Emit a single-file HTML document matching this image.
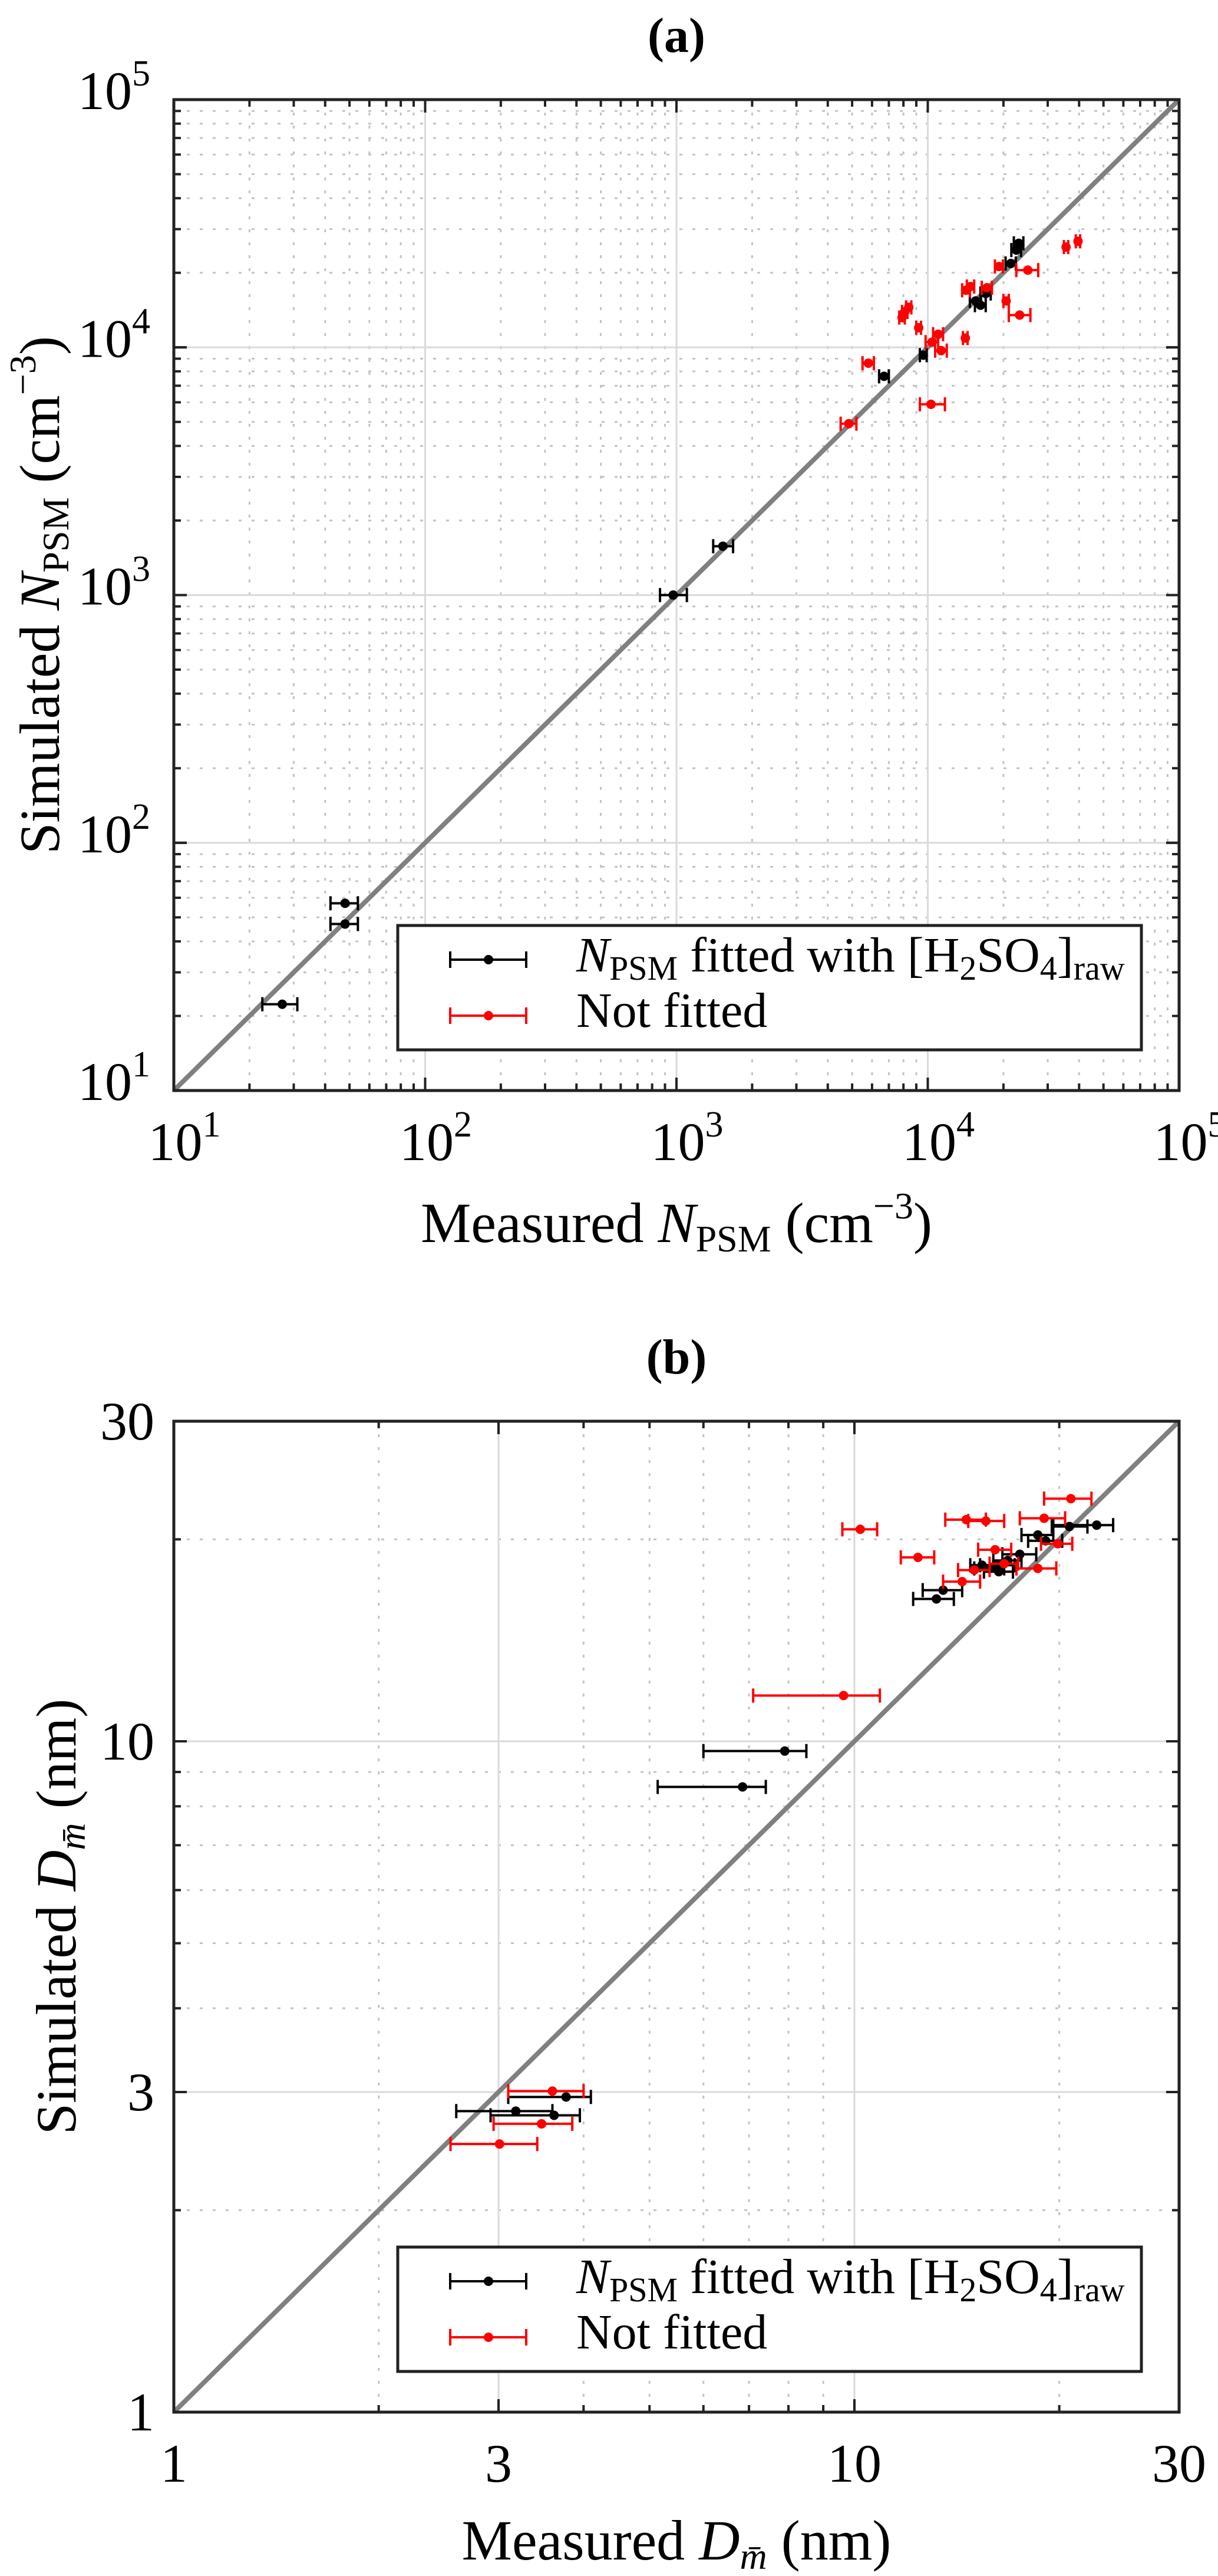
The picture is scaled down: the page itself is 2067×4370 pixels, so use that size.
<!DOCTYPE html>
<html><head><meta charset="utf-8"><style>
html,body{margin:0;padding:0;background:#fff}
svg{display:block}
text{font-family:"Liberation Serif",serif;fill:#000}
</style></head><body>
<svg id="fig" width="2067" height="4370" viewBox="0 0 2067 4370" xmlns="http://www.w3.org/2000/svg">
<rect width="2067" height="4370" fill="#fff"/>
</svg>
<script>
// ---- Panel (a) data: N_PSM (cm^-3) ----
const aBlackX  =[27,48,48,970,1530,6700,9600,15500,16200,17000,21400,22500,23000];
const aBlackY  =[22.3,57,47,1000,1575,7640,9300,15400,14800,16500,21800,24700,26300];
const aBlackLo =[22.5,42,42,860,1400,6400,9300,14700,15400,16200,20400,21500,22000];
const aBlackHi =[31,54,54,1100,1680,7000,9900,16300,17000,17800,22400,23500,24000];
const aRedX  =[4850,5800,10300,7900,8100,8400,9200,10400,11300,11000,14100,14200,14800,17200,19200,20500,25000,23200,35500,39600];
const aRedY  =[4920,8630,5890,13200,13900,14500,12000,10500,9700,11300,10900,17000,17600,17400,21200,15400,20500,13500,25400,26800];
const aRedLo =[4500,5500,9300,7700,7900,8200,9000,9800,10700,10500,13800,13700,14300,16400,18500,20000,22500,21000,34800,38800];
const aRedHi =[5200,6100,11700,8100,8300,8600,9400,11000,11900,11500,14400,14700,15300,18000,19900,21000,27500,25600,36200,40400];
// ---- Panel (b) data: D_m (nm) ----
const bBlackX  =[22.7,20.7,18.6,19.1,17.5,16.2,15.4,15.8,16.8,16.3,13.5,13.2,7.9,6.85,3.77,3.18,3.62];
const bBlackY  =[21.0,20.9,20.3,19.9,19.0,18.3,18.3,18.1,18.6,17.9,16.8,16.3,9.67,8.55,2.95,2.81,2.77];
const bBlackLo =[19.6,19.5,17.6,18.0,16.5,15.3,14.8,15.0,16.0,15.5,12.6,12.2,6.0,5.14,3.1,2.6,2.92];
const bBlackHi =[24.0,22.0,19.6,20.2,18.5,17.2,16.0,16.6,17.6,17.1,14.4,14.0,8.5,7.41,4.1,3.6,3.95];
const bRedX  =[20.8,19.0,14.6,15.6,10.2,16.1,12.4,18.6,14.4,19.9,15.0,16.6,9.64,3.6,3.47,3.01];
const bRedY  =[23.0,21.5,21.4,21.3,20.7,19.3,18.8,18.1,17.3,19.7,18.0,18.4,11.7,3.01,2.69,2.51];
const bRedLo =[19.0,17.5,13.6,14.7,9.6,15.2,11.7,17.3,13.5,18.8,14.2,15.8,7.1,3.1,2.95,2.55];
const bRedHi =[22.3,20.4,15.6,16.6,10.8,17.0,13.1,19.8,15.3,20.9,15.8,17.4,10.9,4.0,3.85,3.42];
const aTicks=["1","2","3","4","5"];
const bTickVals=[1,3,10,30];
const bTickLabels=["1","3","10","30"];

const NS="http://www.w3.org/2000/svg";
const svg=document.getElementById('fig');
function el(tag,attrs,parent){const e=document.createElementNS(NS,tag);for(const k in attrs)e.setAttribute(k,attrs[k]);(parent||svg).appendChild(e);return e;}

function panel(cfg){
  const g=el('g',{});
  
  
  const L=cfg.x0,R=cfg.x1,T=cfg.y0,B=cfg.y1;
  const sx=v=>L+(Math.log10(v)-cfg.lmin)/(cfg.lmax-cfg.lmin)*(R-L);
  const sy=v=>B-(Math.log10(v)-cfg.lmin)/(cfg.lmax-cfg.lmin)*(B-T);
  // grid
  const gg=el('g',{},g);
  
  
  cfg.minor.forEach(v=>{
    el('line',{x1:sx(v),x2:sx(v),y1:T,y2:B,stroke:'#c4c4c4','stroke-width':3,'stroke-dasharray':'5 17'},gg);
    el('line',{x1:L,x2:R,y1:sy(v),y2:sy(v),stroke:'#c4c4c4','stroke-width':3,'stroke-dasharray':'5 17'},gg);
  });
  cfg.major.forEach(v=>{
    el('line',{x1:sx(v),x2:sx(v),y1:T,y2:B,stroke:'#dadada','stroke-width':3},gg);
    el('line',{x1:L,x2:R,y1:sy(v),y2:sy(v),stroke:'#dadada','stroke-width':3},gg);
  });
  // diagonal
  const d=el('line',{x1:sx(cfg.vmin),y1:sy(cfg.vmin),x2:sx(cfg.vmax),y2:sy(cfg.vmax),stroke:'#808080','stroke-width':8},g);
  
  
  // series
  function series(xs,ys,lo,hi,color,name){
    const sg=el('g',{},g);
    
    
    xs.forEach((x,i)=>{
      const cy=sy(ys[i]),a=sx(lo[i]),b=sx(hi[i]);
      el('line',{x1:a,x2:b,y1:cy,y2:cy,stroke:color,'stroke-width':4},sg);
      el('line',{x1:a,x2:a,y1:cy-12,y2:cy+12,stroke:color,'stroke-width':4},sg);
      el('line',{x1:b,x2:b,y1:cy-12,y2:cy+12,stroke:color,'stroke-width':4},sg);
      const c=el('circle',{cx:sx(x),cy:cy,r:8,fill:color},sg);
      
      
    });
  }
  series(cfg.bx,cfg.by,cfg.blo,cfg.bhi,'#000','fitted-series');
  series(cfg.rx,cfg.ry,cfg.rlo,cfg.rhi,'#ff0000','not-fitted-series');
  // ticks
  const tg=el('g',{},g);
  
  
  cfg.major.concat(cfg.labelVals).forEach(v=>{
    const x=sx(v),y=sy(v);
    el('line',{x1:x,x2:x,y1:B,y2:B-22,stroke:'#222','stroke-width':4},tg);
    el('line',{x1:x,x2:x,y1:T,y2:T+22,stroke:'#222','stroke-width':4},tg);
    el('line',{x1:L,x2:L+22,y1:y,y2:y,stroke:'#222','stroke-width':4},tg);
    el('line',{x1:R,x2:R-22,y1:y,y2:y,stroke:'#222','stroke-width':4},tg);
  });
  cfg.minor.forEach(v=>{
    const x=sx(v),y=sy(v);
    el('line',{x1:x,x2:x,y1:B,y2:B-12,stroke:'#222','stroke-width':4},tg);
    el('line',{x1:x,x2:x,y1:T,y2:T+12,stroke:'#222','stroke-width':4},tg);
    el('line',{x1:L,x2:L+12,y1:y,y2:y,stroke:'#222','stroke-width':4},tg);
    el('line',{x1:R,x2:R-12,y1:y,y2:y,stroke:'#222','stroke-width':4},tg);
  });
  // axes box
  const box=el('rect',{x:L,y:T,width:R-L,height:B-T,fill:'none',stroke:'#222','stroke-width':5},g);
  
  
  // legend
  const lg=el('g',{},g);
  
  
  const ly=B-280;
  el('rect',{x:675,y:ly,width:1262,height:211,fill:'#fff',stroke:'#222','stroke-width':5},lg);
  [['#000',ly+58],['#ff0000',ly+153]].forEach(([c,yy])=>{
    el('line',{x1:764,x2:893,y1:yy,y2:yy,stroke:c,'stroke-width':4},lg);
    el('line',{x1:764,x2:764,y1:yy-14,y2:yy+14,stroke:c,'stroke-width':4},lg);
    el('line',{x1:893,x2:893,y1:yy-14,y2:yy+14,stroke:c,'stroke-width':4},lg);
    el('circle',{cx:829,cy:yy,r:8,fill:c},lg);
  });
  const t1=el('text',{x:978,y:ly+78,'font-size':84},lg);
  
  
  t1.innerHTML='<tspan font-style="italic">N</tspan><tspan font-size="58" dy="14">PSM</tspan><tspan dy="-14"> fitted with [H</tspan><tspan font-size="58" dy="14">2</tspan><tspan dy="-14">SO</tspan><tspan font-size="58" dy="14">4</tspan><tspan dy="-14">]</tspan><tspan font-size="58" dy="14">raw</tspan>';
  const t2=el('text',{x:978,y:ly+172,'font-size':84},lg);
  
  
  t2.textContent='Not fitted';
  // tick labels
  cfg.labelVals.forEach((v,i)=>{
    const xt=el('text',{x:sx(v)+(cfg.sup?18:0),y:B+118,'font-size':92,'text-anchor':'middle'},g);
    
    
    const yt=el('text',{x:cfg.sup?255:262,y:sy(v)+(cfg.sup?16:31),'font-size':92,'text-anchor':'end'},g);
    
    
    const html=cfg.sup?'10<tspan font-size="62" dy="-40">'+cfg.labels[i]+'</tspan>':cfg.labels[i];
    xt.innerHTML=html; yt.innerHTML=html;
  });
  // title
  const ti=el('text',{x:(L+R)/2,y:cfg.titleY,'font-size':84,'font-weight':'bold','text-anchor':'middle'},g);
  
  
  ti.textContent=cfg.title;
  const xl=el('text',{x:(L+R)/2,y:cfg.xlabY,'font-size':96,'text-anchor':'middle'},g);
  
  
  xl.innerHTML=cfg.xlab;
  const yl=el('text',{transform:'translate('+cfg.ylabX+','+((T+B)/2)+') rotate(-90)','font-size':96,'text-anchor':'middle'},g);
  
  
  yl.innerHTML=cfg.ylab;
}

const aMinor=[],aMajor=[100,1000,10000];
for(let d=1;d<=4;d++)for(let k=2;k<=9;k++)aMinor.push(k*Math.pow(10,d));
const npsm='<tspan font-style="italic">N</tspan><tspan font-size="64" dy="16">PSM</tspan><tspan dy="-16"> (cm</tspan><tspan font-size="64" dy="-40">−3</tspan><tspan dy="40">)</tspan>';
panel({name:'panel-a',x0:295,x1:2001,y0:169,y1:1850,lmin:1,lmax:5,vmin:10,vmax:1e5,
  minor:aMinor,major:aMajor,labelVals:[10,100,1000,10000,100000],labels:aTicks,sup:true,
  bx:aBlackX,by:aBlackY,blo:aBlackLo,bhi:aBlackHi,rx:aRedX,ry:aRedY,rlo:aRedLo,rhi:aRedHi,
  title:'(a)',titleY:88,xlabY:2107,ylabX:100,
  xlab:'Measured '+npsm,ylab:'Simulated '+npsm});
const dm='<tspan font-style="italic">D</tspan><tspan font-size="64" dy="16" font-style="italic">m̄</tspan><tspan dy="-16"> (nm)</tspan>';
panel({name:'panel-b',x0:295,x1:2001,y0:2411,y1:4092,lmin:0,lmax:Math.log10(30),vmin:1,vmax:30,
  minor:[2,4,5,6,7,8,9,20],major:[3,10],labelVals:bTickVals,labels:bTickLabels,sup:false,
  bx:bBlackX,by:bBlackY,blo:bBlackLo,bhi:bBlackHi,rx:bRedX,ry:bRedY,rlo:bRedLo,rhi:bRedHi,
  title:'(b)',titleY:2330,xlabY:4342,ylabX:128,
  xlab:'Measured '+dm,ylab:'Simulated '+dm});
</script>
</body></html>
